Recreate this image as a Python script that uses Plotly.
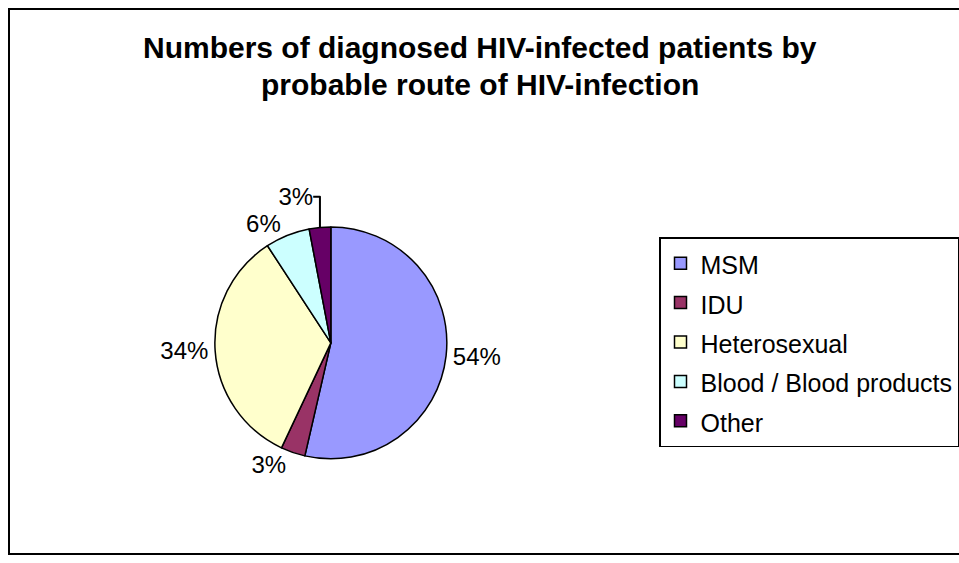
import plotly.graph_objects as go

categories = ["MSM", "IDU", "Heterosexual", "Blood / Blood products", "Other"]
values = [53.6, 3.4, 33.8, 6.2, 3.0]
colors = ["#9999FF", "#993366", "#FFFFCC", "#CCFFFF", "#660066"]
title_lines = ["Numbers of diagnosed HIV-infected patients by", "probable route of HIV-infection"]

FONT = "Liberation Sans, Arial, sans-serif"
W, H = 959, 563

legend_labels = ["<span style='font-size:25px'>%s</span>" % c for c in categories]

fig = go.Figure(go.Pie(
    labels=legend_labels,
    values=values,
    sort=False,
    direction="clockwise",
    rotation=0,
    marker=dict(colors=colors, line=dict(color="black", width=1.5)),
    textposition="outside",
    texttemplate="%{percent:.0%}",
    textfont=dict(family=FONT, size=24, color="black"),
    domain=dict(x=[0.224, 0.466], y=[0.185, 0.597]),
    hoverinfo="label+percent",
))

fig.update_layout(
    width=W, height=H,
    margin=dict(l=0, r=0, t=0, b=0),
    paper_bgcolor="white",
    plot_bgcolor="white",
    font=dict(family=FONT, color="black"),
    showlegend=True,
    legend=dict(
        x=659 / W, y=1 - 237 / H, xanchor="left", yanchor="top",
        bordercolor="black", borderwidth=1.5,
        font=dict(family=FONT, size=28, color="black"),
        bgcolor="white",
    ),
    annotations=[
        dict(text="<b>%s</b>" % title_lines[0], x=0.5, y=1 - 48 / H, xref="paper", yref="paper",
             showarrow=False, font=dict(family=FONT, size=30, color="black"), xanchor="center", yanchor="middle"),
        dict(text="<b>%s</b>" % title_lines[1], x=0.5, y=1 - 85 / H, xref="paper", yref="paper",
             showarrow=False, font=dict(family=FONT, size=30, color="black"), xanchor="center", yanchor="middle"),
    ],
    shapes=[
        dict(type="rect", xref="paper", yref="paper", x0=9 / W, x1=1.02, y0=1 - 554 / H, y1=1 - 9 / H,
             line=dict(color="black", width=2), fillcolor="rgba(0,0,0,0)", layer="below"),
    ],
)

fig.write_html("out.html", config={"displayModeBar": False},
               post_script="document.body.style.margin='0';document.body.style.overflow='hidden';")
